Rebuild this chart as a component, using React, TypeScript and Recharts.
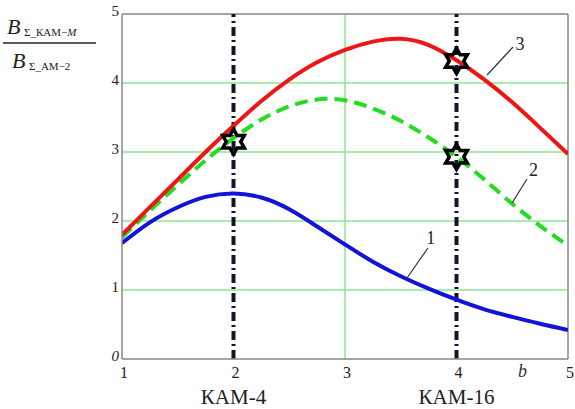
import React from 'react';
import {
  ComposedChart, Line, Scatter, XAxis, YAxis, ReferenceLine, ReferenceDot,
} from 'recharts';

const bValues = [1, 1.25, 1.5, 1.75, 2, 2.25, 2.5, 2.75, 3, 3.25, 3.5, 3.75, 4, 4.25, 4.5, 4.75, 5];
const curve1 = [1.68, 1.98, 2.2, 2.35, 2.4, 2.34, 2.17, 1.92, 1.66, 1.41, 1.2, 1.02, 0.86, 0.72, 0.61, 0.51, 0.42];
const curve2 = [1.76, 2.15, 2.52, 2.88, 3.2, 3.47, 3.66, 3.76, 3.75, 3.63, 3.45, 3.21, 2.93, 2.6, 2.25, 1.93, 1.64];
const curve3 = [1.8, 2.2, 2.6, 3.0, 3.38, 3.74, 4.05, 4.3, 4.48, 4.6, 4.64, 4.55, 4.33, 4.05, 3.72, 3.35, 2.97];

const starX = [2, 4, 4];
const starY = [3.15, 4.32, 2.93];

const xTicks = [1, 2, 3, 4, 5];
const yTicks = [0, 1, 2, 3, 4, 5];
const gridY = [1, 2, 3, 4];
const gridX = [3];
const markerX = [2, 4];
const markerLabels = ['КАМ-4', 'КАМ-16'];

const curveLabels = ['1', '2', '3'];
const leaderStart = [{ x: 3.556, y: 1.174 }, { x: 4.498, y: 2.261 }, { x: 4.274, y: 4.116 }];
const leaderEnd = [{ x: 3.744, y: 1.609 }, { x: 4.632, y: 2.609 }, { x: 4.507, y: 4.522 }];
const labelPos = [{ x: 3.77, y: 1.75 }, { x: 4.69, y: 2.74 }, { x: 4.57, y: 4.56 }];

const data = bValues.map((b, i) => ({ b, c1: curve1[i], c2: curve2[i], c3: curve3[i] }));
const stars = starX.map((x, i) => ({ b: x, s: starY[i] }));

const SERIF = '"Liberation Serif", "Times New Roman", "DejaVu Serif", serif';
const serifStyle = { fontFamily: SERIF };

const StarShape = (props: any) => {
  const { cx, cy } = props;
  const R = 12.5;
  const r = R / Math.sqrt(3);
  const pts: string[] = [];
  for (let i = 0; i < 12; i++) {
    const a = ((-90 + i * 30) * Math.PI) / 180;
    const rr = i % 2 === 0 ? R : r;
    pts.push(`${cx + rr * Math.cos(a)},${cy + rr * Math.sin(a)}`);
  }
  return <polygon points={pts.join(' ')} fill="none" stroke="#000" strokeWidth={3.5} strokeLinejoin="miter" />;
};

const XTick = (props: any) => {
  const { x, y, payload } = props;
  return (
    <text x={x + 2} y={y + 17} textAnchor="middle" style={serifStyle} fontSize={16} fill="#222">
      {payload.value}
    </text>
  );
};

const YTick = (props: any) => {
  const { x, y, payload } = props;
  return (
    <text x={x - 1} y={y + 2} textAnchor="end" style={serifStyle} fontSize={15} fill="#222"
      fontStyle={payload.value === 0 ? 'italic' : 'normal'}>
      {payload.value}
    </text>
  );
};

const YLabel = (props: any) => {
  const vb = props.viewBox || { x: 0, y: 14 };
  const ox = vb.x;
  const oy = vb.y - 14;
  return (
    <g style={serifStyle} fill="#222">
      <text x={ox + 7} y={oy + 34} fontSize={22} fontStyle="italic" style={serifStyle}>B</text>
      <text x={ox + 24} y={oy + 36} fontSize={11} style={serifStyle}>
        Σ_КАМ−<tspan fontStyle="italic">M</tspan>
      </text>
      <line x1={ox + 3} y1={oy + 43} x2={ox + 96} y2={oy + 43} stroke="#222" strokeWidth={1.5} />
      <text x={ox + 12} y={oy + 68} fontSize={22} fontStyle="italic" style={serifStyle}>B</text>
      <text x={ox + 29} y={oy + 70} fontSize={11} style={serifStyle}>Σ_АМ−2</text>
    </g>
  );
};

const XLabel = (props: any) => {
  const vb = props.viewBox || { x: 122, y: 359, width: 446 };
  return (
    <text x={vb.x + vb.width - 50} y={vb.y + 18} style={serifStyle} fontSize={18} fontStyle="italic" fill="#333">
      b
    </text>
  );
};

const makeMarkerLabel = (txt: string) => (props: any) => {
  const vb = props.viewBox;
  if (!vb) return null;
  return (
    <text x={vb.x} y={vb.y + vb.height + 45} textAnchor="middle" style={serifStyle} fontSize={21} fill="#222">
      {txt}
    </text>
  );
};

const makeCurveLabel = (txt: string) => (props: any) => {
  const vb = props.viewBox;
  if (!vb) return null;
  return (
    <text x={vb.x + (vb.width || 0) / 2} y={vb.y + (vb.height || 0) / 2 + 6} textAnchor="middle"
      style={serifStyle} fontSize={18} fill="#222">
      {txt}
    </text>
  );
};

export default function App() {
  return (
    <div style={{ position: 'absolute', left: 0, top: 0, width: 575, height: 409, background: '#fff' }}>
      <ComposedChart width={575} height={409} data={data} margin={{ top: 14, right: 7, left: 0, bottom: 0 }}>
        <XAxis dataKey="b" type="number" domain={[1, 5]} ticks={xTicks} height={50}
          axisLine={{ stroke: '#888', strokeWidth: 1.5 }} tickLine={false} tickSize={0} tick={<XTick />}
          label={<XLabel />} allowDataOverflow />
        <YAxis type="number" domain={[0, 5]} ticks={yTicks} width={122}
          axisLine={{ stroke: '#888', strokeWidth: 1.5 }} tickLine={false} tickSize={0} tick={<YTick />}
          label={<YLabel />} allowDataOverflow />
        {gridY.map((v) => (
          <ReferenceLine key={'gy' + v} y={v} stroke="#8ee68e" strokeWidth={1.5} />
        ))}
        {gridX.map((v) => (
          <ReferenceLine key={'gx' + v} x={v} stroke="#8ee68e" strokeWidth={1.5} />
        ))}
        <ReferenceLine y={5} stroke="#888" strokeWidth={1.5} />
        <ReferenceLine x={5} stroke="#888" strokeWidth={1.5} />
        {markerX.map((v, i) => (
          <ReferenceLine key={'m' + v} x={v} stroke="#14142a" strokeWidth={4}
            strokeDasharray="9 4 2 4" label={{ content: makeMarkerLabel(markerLabels[i]) } as any} />
        ))}
        <Line type="natural" dataKey="c1" stroke="#1212d8" strokeWidth={4} dot={false} isAnimationActive={false} />
        <Line type="natural" dataKey="c2" stroke="#22dd22" strokeWidth={4} strokeDasharray="13 7" dot={false} isAnimationActive={false} />
        <Line type="natural" dataKey="c3" stroke="#ee1515" strokeWidth={4} dot={false} isAnimationActive={false} />
        {curveLabels.map((t, i) => (
          <ReferenceLine key={'l' + t} segment={[leaderStart[i], leaderEnd[i]]} stroke="#333" strokeWidth={1.2} />
        ))}
        {curveLabels.map((t, i) => (
          <ReferenceDot key={'d' + t} x={labelPos[i].x} y={labelPos[i].y} r={0} fill="none" stroke="none"
            label={{ content: makeCurveLabel(t) } as any} />
        ))}
        <Scatter data={stars} dataKey="s" shape={<StarShape />} isAnimationActive={false} />
      </ComposedChart>
    </div>
  );
}
